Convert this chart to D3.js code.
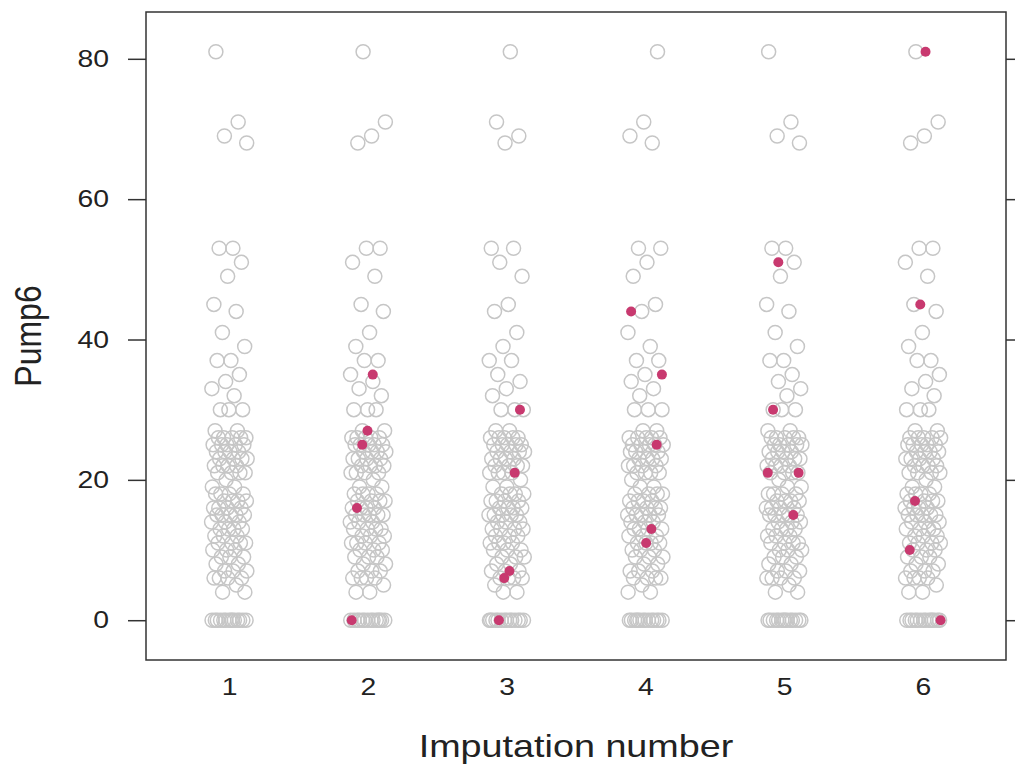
<!DOCTYPE html>
<html>
<head>
<meta charset="utf-8">
<script src="https://cdn.jsdelivr.net/npm/d3@7"></script>
<style>
  body { margin: 0; background: #fff; }
  svg { display: block; }
  text { font-family: "Liberation Sans", Arial, Helvetica, sans-serif; fill: #222; }
</style>
</head>
<body>
<div id="chart"></div>
<script>
// imputation columns on the x axis
var categories = [1, 2, 3, 4, 5, 6];
var yTicks = [0, 20, 40, 60, 80];

// observed Pump6 values (same in every column, grey)
var observed = [81, 71, 69, 68, 53, 53, 51, 49, 45, 44, 41, 39, 37, 37, 35, 34, 33, 32,
  30, 30, 30, 27, 27, 26, 26, 26, 26, 26, 25, 25, 25, 25, 25, 24, 24, 24, 24,
  23, 23, 23, 23, 22, 22, 22, 22, 21, 21, 21, 21, 20, 19, 19, 18, 18, 18, 18,
  17, 17, 17, 17, 16, 16, 16, 16, 15, 15, 15, 15, 15, 14, 14, 14, 13, 13, 13, 13,
  12, 12, 12, 11, 11, 11, 11, 10, 10, 10, 9, 9, 9, 8, 8, 7, 7, 7, 6, 6, 6, 6, 5, 4, 4,
  0, 0, 0, 0, 0, 0, 0, 0, 0, 0, 0, 0, 0, 0];

// imputed values per imputation (red), column 1 is the observed data only
var imp1 = [35, 27, 25, 16, 0];
var imp2 = [30, 21, 7, 6, 0];
var imp3 = [44, 35, 25, 13, 11];
var imp4 = [51, 30, 21, 21, 15];
var imp5 = [81, 45, 17, 10, 0];
var imputedByColumn = [[], imp1, imp2, imp3, imp4, imp5];

var W = 1015, H = 769;
var margin = {top: 12, right: 9, bottom: 109, left: 146};
var stretch = 1.18; // text in the original is drawn a bit wide

var svg = d3.select("#chart")
  .append("svg")
    .attr("width", W)
    .attr("height", H);

var x = d3.scaleLinear()
    .domain([0.4, 6.6])
    .range([margin.left, W - margin.right]);

var y = d3.scaleLinear()
    .domain([-5.67, 86.67])
    .range([H - margin.bottom, margin.top]);

// horizontal jitter, deterministic spread around the column centre
function jit(i, c) {
  var f = (i * 0.6180339 + c * 0.2357 + 0.13) % 1;
  return (f - 0.5) * 0.26;
}

function widen(sel) {
  sel.each(function() {
    var t = d3.select(this);
    var tx = +t.attr("x") || 0;
    t.attr("x", 0).attr("transform", "translate(" + tx + ",0) scale(" + stretch + ",1)");
  });
}

// frame
svg.append("rect")
    .attr("x", x(0.4))
    .attr("y", y(86.67))
    .attr("width", x(6.6) - x(0.4))
    .attr("height", y(-5.67) - y(86.67))
    .attr("fill", "none")
    .attr("stroke", "#333")
    .attr("stroke-width", 1.5);

// left axis
var left = svg.append("g")
    .attr("transform", "translate(" + x(0.4) + ",0)")
    .call(d3.axisLeft(y).tickValues(yTicks).tickSize(18).tickPadding(19));
left.select(".domain").remove();
left.selectAll("line").attr("stroke", "#333").attr("stroke-width", 1.5);
left.selectAll("text")
    .style("font-size", "24px")
    .attr("fill", "#222")
    .call(widen);

// right axis ticks only
var right = svg.append("g")
    .attr("transform", "translate(" + x(6.6) + ",0)")
    .call(d3.axisRight(y).tickValues(yTicks).tickSize(18).tickFormat(""));
right.select(".domain").remove();
right.selectAll("line").attr("stroke", "#333").attr("stroke-width", 1.5);

// bottom labels (no tick marks)
var bottom = svg.append("g")
    .attr("transform", "translate(0," + y(-5.67) + ")")
    .call(d3.axisBottom(x).tickValues(categories).tickSize(0).tickPadding(18).tickFormat(d3.format("d")));
bottom.select(".domain").remove();
bottom.selectAll("text")
    .style("font-size", "24px")
    .attr("fill", "#222")
    .call(widen);

// observed points
categories.forEach(function(c, ci) {
  svg.append("g").selectAll("circle")
    .data(observed)
    .enter().append("circle")
      .attr("cx", function(d, i) { return x(c + jit(i, ci)); })
      .attr("cy", function(d) { return y(d); })
      .attr("r", 7)
      .attr("fill", "none")
      .attr("stroke", "#c6c6c6")
      .attr("stroke-width", 1.5);
});

// imputed points
categories.forEach(function(c, ci) {
  svg.append("g").selectAll("circle")
    .data(imputedByColumn[ci])
    .enter().append("circle")
      .attr("cx", function(d, i) { return x(c + jit(i * 3 + 1, ci + 7)); })
      .attr("cy", function(d) { return y(d); })
      .attr("r", 5)
      .attr("fill", "#c8396f");
});

// axis titles
svg.append("text")
    .attr("transform", "translate(" + (x(0.4) + x(6.6)) / 2 + ",757) scale(" + stretch + ",1)")
    .attr("text-anchor", "middle")
    .style("font-size", "32px")
    .text("Imputation number");

svg.append("text")
    .attr("transform", "translate(41," + y(40.5) + ") scale(" + stretch + ",1) rotate(-90)")
    .attr("text-anchor", "middle")
    .style("font-size", "32px")
    .text("Pump6");
</script>
</body>
</html>
